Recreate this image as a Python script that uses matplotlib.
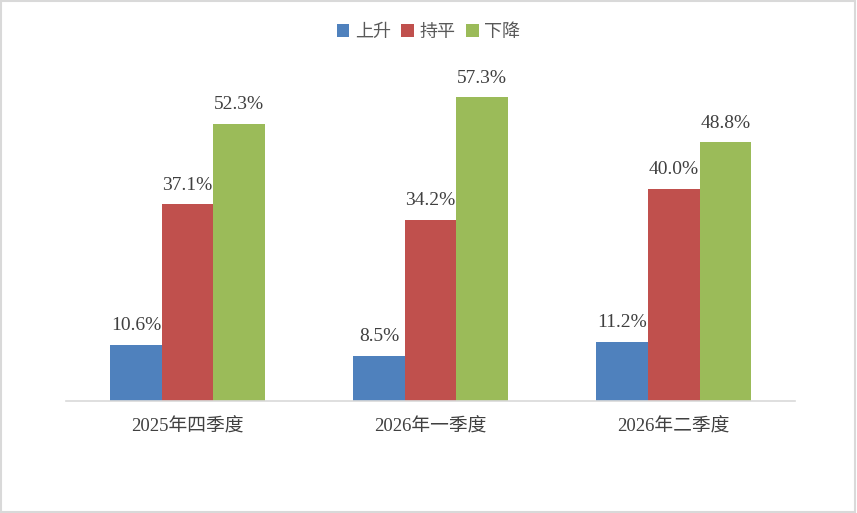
import matplotlib.pyplot as plt
import numpy as np
from matplotlib.patches import Rectangle

plt.rcParams['font.family'] = ['Liberation Serif', 'Noto Sans CJK SC', 'DejaVu Sans']

# data
categories = ["2025年四季度", "2026年一季度", "2026年二季度"]
series_names = ["上升", "持平", "下降"]
up = [10.6, 8.5, 11.2]
flat = [37.1, 34.2, 40.0]
down = [52.3, 57.3, 48.8]
colors = ["#4F81BD", "#C0504D", "#9BBB59"]

fig = plt.figure(figsize=(8.57, 5.13), dpi=100)
ax = fig.add_axes([0.077, 0.2183, 0.851, 0.665])

x = np.arange(len(categories))
w = 0.212
for i, (vals, name) in enumerate(zip([up, flat, down], series_names)):
    pos = x + (i - 1) * w
    ax.bar(pos, vals, w, color=colors[i], label=name)
    for p, v in zip(pos, vals):
        ax.annotate(f"{v:.1f}%", (p, v), xytext=(0, 7.5), textcoords="offset points",
                    ha="center", va="bottom", fontsize=14, color="#404040")

ax.set_xlim(-0.5, 2.5)
ax.set_ylim(0, 64.3)
ax.set_xticks(x)
ax.set_xticklabels(categories, fontsize=13.5, color="#404040")
ax.tick_params(axis="x", length=0, pad=12)
ax.set_yticks([])
for s in ["top", "right", "left"]:
    ax.spines[s].set_visible(False)
ax.spines["bottom"].set_color("#d9d9d9")
ax.spines["bottom"].set_linewidth(1.2)

fig.legend(loc="upper center", bbox_to_anchor=(0.5, 0.985), ncol=3, frameon=False,
           fontsize=13, handlelength=0.7, handleheight=0.7, handletextpad=0.3,
           columnspacing=0.6, labelcolor="#595959")

fig.patches.append(Rectangle((0.001, 0.002), 0.997, 0.996, transform=fig.transFigure,
                             fill=False, edgecolor="#d9d9d9", linewidth=1.5))

fig.savefig("out.png", dpi=100)
